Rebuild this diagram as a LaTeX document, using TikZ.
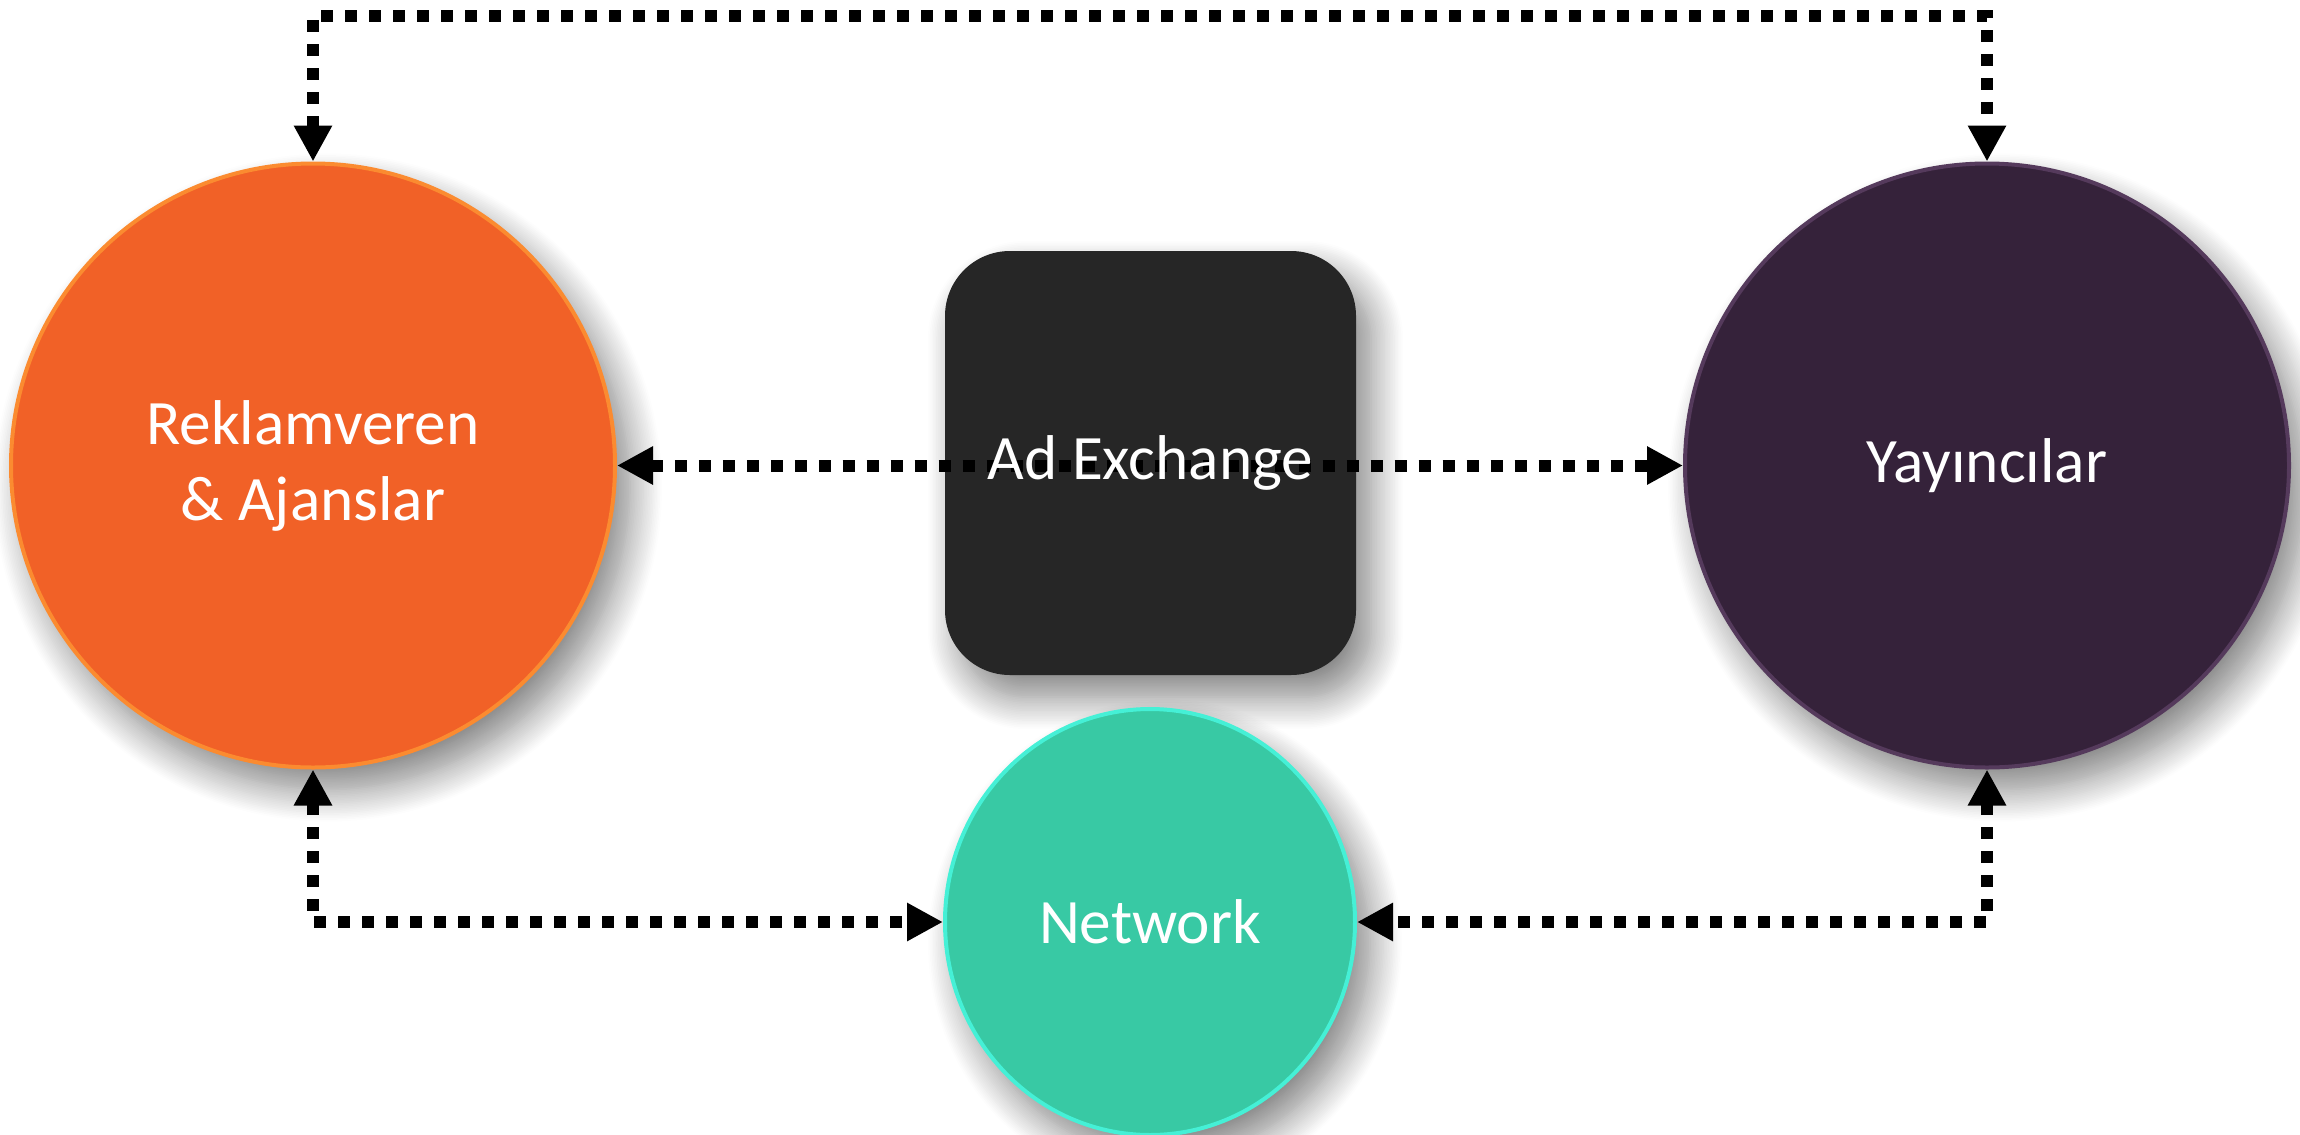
\documentclass[tikz,border=0pt]{standalone}
\usepackage{fontspec}
\setmainfont{Carlito}
\usepackage{xcolor}
\usetikzlibrary{arrows.meta,shapes.geometric,shadows.blur}

\definecolor{advorange}{HTML}{F16127}
\definecolor{advrim}{HTML}{FB8B30}
\definecolor{pubpurple}{HTML}{35223A}
\definecolor{pubrim}{HTML}{553A5C}
\definecolor{adxgray}{HTML}{262626}
\definecolor{netteal}{HTML}{38C9A4}
\definecolor{netrim}{HTML}{45F0D6}

\begin{document}
\begin{tikzpicture}[
  softshadow/.style={blur shadow={shadow xshift=0.15cm, shadow yshift=-0.22cm, shadow blur radius=0.32cm, shadow blur steps=20, shadow opacity=50}},
  label text/.style={text=white, align=center, font=\fontsize{18}{21.6}\selectfont},
  player/.style={circle, minimum size=6.04cm, inner sep=0pt, line width=0.04cm, label text, softshadow},
  adxbox/.style={rectangle, rounded corners=0.65cm, minimum width=4.11cm, minimum height=4.24cm, fill=adxgray, softshadow},
  netnode/.style={ellipse, minimum width=4.1cm, minimum height=4.26cm, inner sep=0pt, fill=netteal, draw=netrim, line width=0.04cm, label text, softshadow},
  link/.style={line width=0.12cm, dash pattern=on 0.12cm off 0.12cm, {Triangle[width=0.36cm,length=0.36cm]}-{Triangle[width=0.36cm,length=0.36cm]}}
]
  \useasboundingbox (0,0) rectangle (23,-11.34);

  % Aktorler
  \node[player, fill=advorange, draw=advrim] (adv) at (3.13,-4.655) {Reklamveren\\\& Ajanslar};
  \node[player, fill=pubpurple, draw=pubrim] (pub) at (19.87,-4.655) {Yayıncılar};
  \node[adxbox] (adx) at (11.505,-4.63) {};
  \node[netnode] (net) at (11.5,-9.22) {Network};
  \coordinate (top) at (0,-0.16);

  % Baglantilar
  \draw[link] (adv.north) -- (adv.north |- top) -- (pub.north |- top) -- (pub.north);
  \draw[link] (adv.east) -- (pub.west);
  \draw[link] (adv.south) |- (net.west);
  \draw[link] (pub.south) |- (net.east);

  \node[label text] (adxtext) at (adx.center) {Ad Exchange};
\end{tikzpicture}
\end{document}
